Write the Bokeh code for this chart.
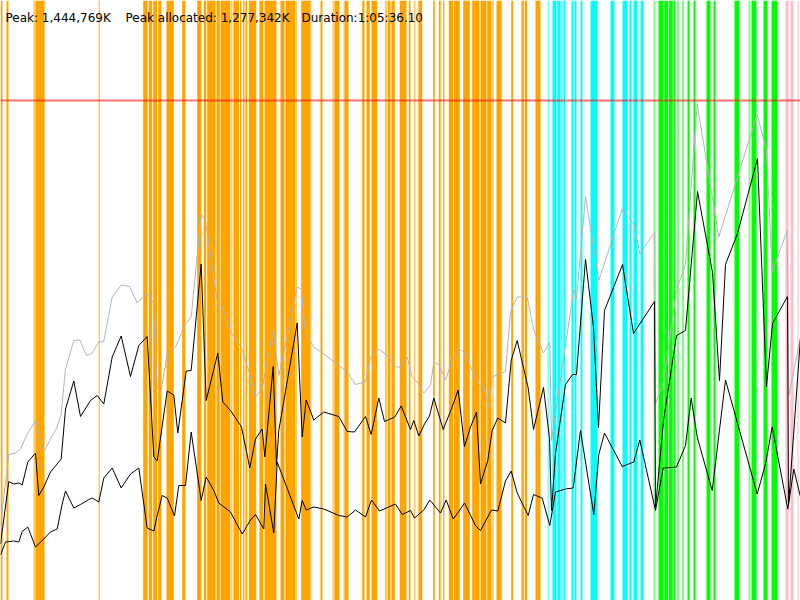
from bokeh.plotting import figure
from bokeh.models import Range1d, BoxAnnotation, Span, Label
from bokeh.embed import file_html
from bokeh.resources import INLINE

# Time axis: 0..800 time units = whole run (Duration 1:05:36.10)
# Memory values in % of peak (Peak 1,444,769K = 100)
PEAK_PCT = 100.0

HEAP_T = [0, 8.3, 15, 20, 26.7, 35, 43.3, 50, 56.7, 60.7,
          65, 73.3, 79.3, 86, 91.7, 98.3, 103.3, 111.7, 120.7, 129.3,
          136.7, 146.7, 152.7, 156.7, 160.7, 166.7, 175, 185, 190.7, 200.7,
          205, 217.3, 221.7, 230, 240.7, 249.3, 255, 261.7, 265, 272.7,
          278.3, 285, 296.7, 300.7, 305, 313.3, 323.3, 336.7, 346.7, 355,
          365, 370, 378.3, 386.7, 395, 400, 406.7, 411.7, 416.7, 423.3,
          430, 433.3, 439, 445, 451.7, 458.3, 465, 470, 478.3, 483.3,
          488.3, 491.7, 498.3, 505, 510, 516.7, 526.7, 533.3, 543, 549.3,
          551, 573.3, 576, 585, 598.3, 621.7, 633.3, 639.3, 654.3, 655,
          663.3, 676, 685, 696.7, 718.3, 756.7, 766, 771.7, 786.7, 788.3, 800]
HEAP_V = [15.0, 29.2, 29.5, 30.3, 33.3, 36.0, 29.7, 32.3, 34.7, 37.3,
          46.3, 52.0, 52.1, 49.0, 49.5, 51.7, 51.8, 60.7, 63.1, 62.8,
          59.5, 61.5, 59.7, 42.3, 42.0, 49.2, 50.7, 55.3, 56.7, 77.2,
          76.0, 59.0, 58.7, 53.7, 50.7, 45.3, 40.7, 42.5, 46.0, 54.1,
          45.0, 51.3, 62.7, 62.3, 53.3, 50.7, 49.3, 47.3, 45.7, 43.2,
          43.7, 48.7, 50.3, 49.0, 46.7, 46.7, 48.7, 44.7, 43.7, 41.5,
          43.0, 47.7, 47.0, 44.1, 48.0, 50.3, 49.5, 46.7, 43.3, 42.7,
          38.7, 44.7, 45.3, 45.8, 57.7, 60.7, 60.7, 54.0, 49.5, 51.7,
          32.0, 62.3, 60.3, 80.8, 64.0, 78.3, 75.3, 69.3, 73.7, 39.3,
          44.0, 62.0, 67.3, 99.3, 72.7, 97.2, 90.0, 65.7, 74.0, 41.0, 52.7]

ALLOC_T = [0, 8.3, 13.3, 18.3, 21.7, 27.3, 35, 38.3, 43.3, 50,
           60.7, 65, 73.3, 80, 90, 96.7, 103.3, 111.7, 120.7, 130,
           138.3, 146.7, 153.3, 156.7, 166.7, 173.3, 177.3, 185.7, 190.7, 200.7,
           205.7, 217.3, 222.3, 230, 241, 249.3, 255, 261.7, 264.3, 272.7,
           276, 278.3, 296.7, 301.7, 305.7, 313.3, 323.3, 338.3, 346.7, 354,
           365, 370.7, 378.3, 384, 394.3, 400.7, 410, 413.3, 418.3, 424,
           429, 433.3, 442.7, 450.7, 457.7, 464, 470, 476, 480, 487.3,
           491.7, 497.3, 505, 510.7, 516.7, 527.7, 533, 543, 549, 551,
           555, 565, 572, 576, 585, 593, 598, 604, 622, 633,
           654, 655, 663, 676, 685, 697, 712, 719, 725, 737,
           757, 766, 772, 787, 788, 800]
ALLOC_V = [11.3, 23.8, 23.3, 23.5, 23.1, 27.7, 29.5, 21.0, 22.7, 25.7,
           28.3, 38.3, 43.9, 36.8, 40.0, 41.0, 39.3, 48.7, 52.9, 44.8,
           51.0, 52.8, 28.8, 27.9, 41.9, 41.1, 33.5, 45.9, 46.0, 67.3,
           40.0, 49.5, 39.7, 38.0, 34.7, 26.5, 32.3, 34.3, 28.7, 46.8,
           27.0, 34.0, 55.5, 32.7, 40.1, 36.1, 37.7, 36.8, 33.8, 33.7,
           36.8, 33.2, 40.5, 35.8, 36.7, 38.9, 34.2, 36.0, 32.9, 35.3,
           36.9, 40.5, 34.2, 38.2, 42.1, 30.8, 34.7, 37.7, 23.3, 28.0,
           34.0, 36.5, 35.5, 48.0, 52.0, 42.5, 34.2, 42.6, 32.4, 18.0,
           29.4, 43.2, 45.2, 45.2, 68.2, 54.6, 34.6, 58.0, 67.2, 53.4,
           59.8, 18.6, 36.0, 53.0, 54.0, 81.8, 65.6, 44.0, 67.2, 73.4,
           88.4, 42.8, 55.4, 60.8, 19.0, 52.6]

LIVE_T = [0, 5, 13.3, 18.3, 21.7, 27.3, 35, 43.3, 50, 56.7,
          61.7, 65, 73.3, 80, 88.3, 91.7, 98.3, 103.3, 111.7, 120.7,
          130, 138.3, 146.7, 153.3, 156.7, 161.7, 166.7, 174, 178.3, 185,
          190.7, 200.7, 205.7, 213.3, 218.3, 230, 241.7, 250, 255, 263.3,
          265, 273.3, 276.7, 298.3, 301.7, 305.7, 313.3, 323.3, 338.3, 346.7,
          355, 365, 371, 379, 395, 401.7, 410, 414, 423.3, 429.3,
          440, 445.7, 452.7, 460, 464, 475, 480, 491, 497.3, 505,
          510.7, 516.7, 527.7, 533, 541.7, 549.3, 555, 565, 572.7, 580,
          593.3, 598.3, 604, 621.7, 633.3, 639.3, 655, 662.7, 676, 685,
          690.7, 696.7, 711.7, 725, 756.7, 765, 771.7, 787.3, 793.3, 800]
LIVE_V = [9.1, 11.7, 11.9, 11.7, 13.8, 14.7, 10.7, 12.3, 13.7, 14.3,
          19.3, 21.9, 18.5, 19.2, 20.2, 20.5, 19.7, 24.5, 26.5, 22.5,
          25.3, 26.5, 14.5, 13.9, 17.0, 21.0, 20.5, 16.9, 23.0, 23.0,
          33.7, 20.0, 24.7, 22.0, 19.5, 17.7, 13.3, 16.1, 17.2, 14.3,
          23.3, 13.5, 27.7, 16.3, 20.0, 18.1, 18.7, 18.3, 17.0, 16.7,
          18.1, 16.7, 20.1, 17.9, 19.3, 17.2, 18.0, 16.5, 18.1, 20.1,
          17.5, 20.1, 16.3, 18.3, 19.5, 15.0, 14.0, 18.1, 17.9, 23.9,
          25.9, 21.5, 17.0, 21.2, 20.5, 15.0, 21.7, 22.3, 22.5, 34.0,
          17.2, 29.2, 33.5, 26.8, 27.7, 32.1, 18.0, 26.5, 26.7, 31.0,
          40.5, 32.7, 22.0, 44.1, 21.3, 27.3, 34.7, 18.3, 26.3, 20.7]

# Event bands (start, end) in time units
ORANGE_START = [0, 6, 35, 142.7, 148.3, 152.7, 157.7, 166, 181.7, 196.7, 203.3, 206.7,
                216, 220, 233, 239.5, 242.7, 245, 248.3, 259, 264, 280, 285, 300.7,
                320, 334, 344, 361.7, 366, 371, 387.3, 391, 399.3, 408.3, 418.5,
                432.7, 438.3, 442.7, 448.3, 453.3, 462.7, 471.7, 480, 486.7, 496,
                510.7, 521, 524.3, 535]
ORANGE_END = [2, 8, 44, 146.7, 151.7, 156.7, 161, 173.3, 185, 201, 205.7, 215,
              219.3, 230, 238.5, 241, 244, 246.7, 255.7, 262.7, 276, 284, 295, 310,
              322, 339, 348, 364, 369.3, 376.7, 390, 394.3, 406, 410, 421.7,
              434.3, 440, 444, 452.7, 459.3, 469.3, 479, 486, 491, 501,
              512.7, 523.3, 526.7, 540]
ORANGE_LIGHT_START = [33, 98, 146.7, 230.5, 295.5, 310, 332, 343, 384.3, 413.3, 417.3, 440, 491.7, 501]
ORANGE_LIGHT_END = [35, 99.5, 147.7, 232, 296.5, 311, 334, 344, 386.7, 415, 418.5, 441, 493.3, 501.7]

CYAN_START = [552, 556.8, 560.8, 563, 571, 574, 580, 590, 610, 622, 629, 633, 640]
CYAN_END = [556, 560, 562, 564.5, 573, 576, 582, 597, 614, 627, 631, 637, 643]
CYAN_LIGHT_START = [547]
CYAN_LIGHT_END = [549]

GREEN_START = [658, 663.8, 668.6, 673, 677, 682, 687, 693, 706, 713, 734, 751, 763, 771]
GREEN_END = [663, 667.8, 672.2, 675, 678, 683, 689, 695, 710, 715, 739, 756, 767, 777]
GREEN_LIGHT_START = [653, 748]
GREEN_LIGHT_END = [655, 750]

PINK_START = [785, 790, 797]
PINK_END = [788, 793, 798]

p = figure(width=800, height=600, output_backend="svg", toolbar_location=None,
           x_range=Range1d(0, 800), y_range=Range1d(0, 120),
           min_border=0, outline_line_color=None, background_fill_color="white",
           border_fill_color="white")
p.axis.visible = False
p.grid.visible = False


def bands(starts, ends, color, alpha):
    for s, e in zip(starts, ends):
        p.add_layout(BoxAnnotation(left=s, right=e, fill_color=color, fill_alpha=alpha,
                                   line_color=None, level="underlay"))


bands(ORANGE_START, ORANGE_END, "#FFA500", 1.0)
bands(ORANGE_LIGHT_START, ORANGE_LIGHT_END, "#FFA500", 0.6)
bands(CYAN_START, CYAN_END, "#00FFFF", 1.0)
bands(CYAN_LIGHT_START, CYAN_LIGHT_END, "#00FFFF", 0.5)
bands(GREEN_START, GREEN_END, "#00FF00", 1.0)
bands(GREEN_LIGHT_START, GREEN_LIGHT_END, "#00FF00", 0.5)
bands(PINK_START, PINK_END, "#FFC0CB", 1.0)

p.add_layout(Span(location=PEAK_PCT, dimension="width", line_color="#FF0000",
                  line_alpha=0.55, line_width=2))

p.line(HEAP_T, HEAP_V, line_color="#B4B4B4", line_width=1)
p.line(ALLOC_T, ALLOC_V, line_color="black", line_width=1)
p.line(LIVE_T, LIVE_V, line_color="black", line_width=1)

TITLES = ["Peak: 1,444,769K", "Peak allocated: 1,277,342K", "Duration:1:05:36.10"]
TITLE_X = [5, 125, 301]
for t, x in zip(TITLES, TITLE_X):
    p.add_layout(Label(x=x, y=583, x_units="screen", y_units="screen", text=t,
                       text_font="DejaVu Sans", text_font_size="12px",
                       text_color="black", text_baseline="alphabetic"))

open("out.html", "w").write(file_html(p, INLINE))
